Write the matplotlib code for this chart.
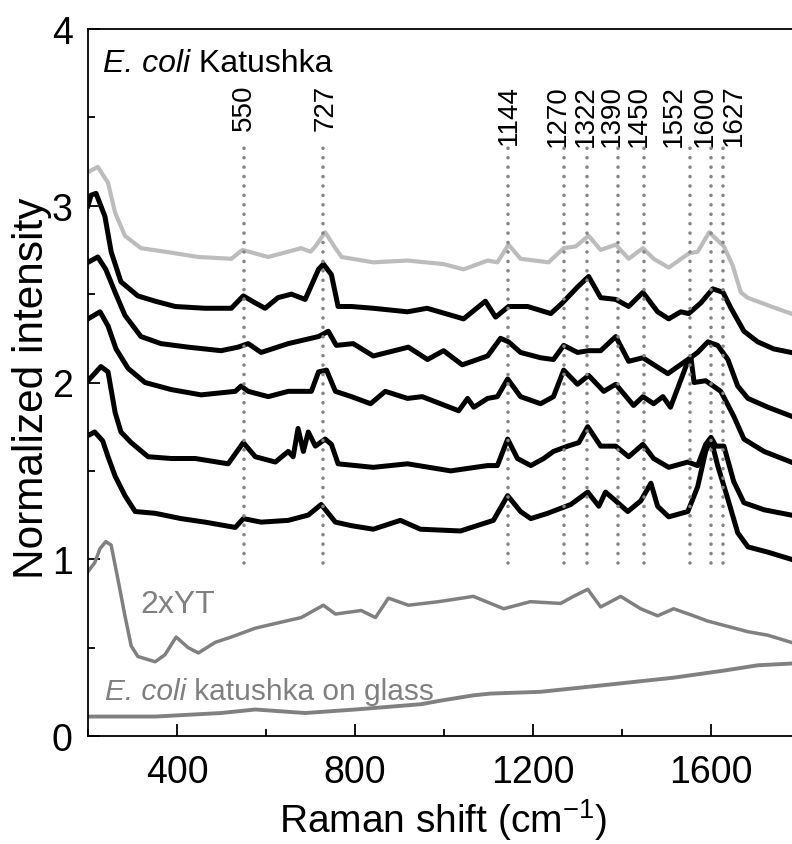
import numpy as np
import matplotlib
matplotlib.use("Agg")
import matplotlib.pyplot as plt
from matplotlib.ticker import MultipleLocator

plt.rcParams['font.family'] = ['Liberation Sans', 'DejaVu Sans']
plt.rcParams['mathtext.fontset'] = 'custom'
plt.rcParams['mathtext.rm'] = 'Liberation Sans'
plt.rcParams['mathtext.default'] = 'regular'

# --- spectra (Raman shift in cm-1, normalized intensity) ---
top_gray_x = [200, 222, 245, 261, 283, 319, 373, 448, 522, 547, 605, 679, 700, 711, 733, 756, 770,
              841, 918, 999, 1044, 1098, 1120, 1145, 1172, 1235, 1269, 1296, 1325, 1352, 1386,
              1415, 1447, 1471, 1505, 1550, 1570, 1596, 1629, 1649, 1667, 1682, 1735, 1780]
top_gray_y = [3.19, 3.22, 3.13, 2.96, 2.83, 2.76, 2.74, 2.71, 2.70, 2.75, 2.71, 2.76, 2.74, 2.77, 2.85, 2.76, 2.71,
              2.68, 2.69, 2.67, 2.64, 2.69, 2.68, 2.78, 2.70, 2.68, 2.76, 2.77, 2.83, 2.75, 2.78,
              2.70, 2.76, 2.70, 2.65, 2.73, 2.74, 2.85, 2.77, 2.66, 2.51, 2.48, 2.43, 2.39]

black1_x = [200, 207, 218, 238, 252, 274, 312, 351, 396, 463, 522, 549, 576, 598, 627, 657, 688, 718, 729,
            747, 762, 792, 841, 918, 962, 1044, 1093, 1116, 1145, 1188, 1240, 1266, 1300, 1325, 1352,
            1386, 1415, 1447, 1480, 1505, 1532, 1550, 1577, 1604, 1627, 1645, 1674, 1705, 1741, 1780]
black1_y = [3.00, 3.06, 3.07, 2.94, 2.74, 2.57, 2.49, 2.46, 2.43, 2.42, 2.42, 2.49, 2.45, 2.42, 2.48, 2.50, 2.47, 2.64, 2.67,
            2.61, 2.43, 2.43, 2.42, 2.40, 2.42, 2.36, 2.46, 2.37, 2.43, 2.43, 2.39, 2.45, 2.54, 2.60, 2.48,
            2.47, 2.43, 2.51, 2.40, 2.36, 2.40, 2.39, 2.45, 2.53, 2.51, 2.42, 2.29, 2.23, 2.19, 2.17]

black2_x = [200, 222, 240, 261, 283, 319, 364, 425, 499, 537, 560, 589, 650, 718, 740, 758, 796, 841, 920,
            963, 999, 1041, 1098, 1127, 1145, 1172, 1217, 1246, 1269, 1300, 1325, 1352, 1386, 1415, 1447,
            1503, 1548, 1570, 1593, 1615, 1638, 1660, 1683, 1728, 1780]
black2_y = [2.68, 2.71, 2.64, 2.51, 2.38, 2.26, 2.22, 2.20, 2.18, 2.20, 2.22, 2.17, 2.22, 2.26, 2.29, 2.21, 2.22, 2.15, 2.20,
            2.13, 2.18, 2.10, 2.15, 2.25, 2.23, 2.17, 2.14, 2.13, 2.21, 2.17, 2.18, 2.18, 2.26, 2.12, 2.14,
            2.05, 2.13, 2.17, 2.23, 2.21, 2.13, 1.98, 1.91, 1.86, 1.81]

black3_x = [200, 227, 245, 263, 290, 328, 387, 454, 531, 544, 560, 605, 650, 702, 718, 736, 756, 792, 835,
            868, 918, 951, 992, 1033, 1053, 1067, 1098, 1120, 1143, 1172, 1217, 1246, 1269, 1300, 1325,
            1359, 1386, 1426, 1447, 1471, 1492, 1509, 1548, 1555, 1562, 1588, 1622, 1651, 1674, 1719, 1780]
black3_y = [2.36, 2.40, 2.32, 2.19, 2.08, 2.00, 1.96, 1.93, 1.95, 1.98, 1.95, 1.92, 1.95, 1.95, 2.06, 2.07, 1.95, 1.92, 1.88,
            1.95, 1.91, 1.92, 1.88, 1.84, 1.91, 1.86, 1.91, 1.92, 2.02, 1.92, 1.88, 1.92, 2.07, 1.99, 2.04,
            1.95, 1.99, 1.87, 1.92, 1.88, 1.92, 1.86, 2.12, 2.14, 2.00, 2.01, 1.95, 1.81, 1.68, 1.61, 1.55]

black4_x = [200, 229, 245, 261, 274, 297, 335, 387, 441, 515, 549, 576, 621, 650, 661, 672, 684, 695, 711,
            733, 747, 762, 841, 918, 1015, 1098, 1120, 1143, 1165, 1195, 1224, 1246, 1278, 1303, 1323,
            1352, 1386, 1415, 1447, 1471, 1505, 1548, 1570, 1588, 1600, 1611, 1629, 1651, 1674, 1719, 1780]
black4_y = [2.01, 2.09, 2.06, 1.83, 1.72, 1.66, 1.58, 1.57, 1.57, 1.54, 1.66, 1.58, 1.55, 1.61, 1.58, 1.74, 1.61, 1.72, 1.64,
            1.68, 1.65, 1.54, 1.52, 1.54, 1.50, 1.53, 1.53, 1.68, 1.57, 1.53, 1.57, 1.61, 1.64, 1.66, 1.75,
            1.64, 1.64, 1.58, 1.65, 1.57, 1.52, 1.55, 1.53, 1.65, 1.69, 1.64, 1.64, 1.44, 1.32, 1.28, 1.25]

black5_x = [200, 215, 233, 245, 261, 283, 306, 351, 409, 463, 531, 549, 589, 650, 695, 724, 756, 792, 841,
            902, 947, 1037, 1111, 1143, 1172, 1195, 1233, 1285, 1323, 1348, 1363, 1386, 1413, 1442, 1465,
            1480, 1505, 1548, 1570, 1588, 1600, 1615, 1638, 1660, 1683, 1728, 1780]
black5_y = [1.70, 1.72, 1.67, 1.58, 1.47, 1.36, 1.27, 1.26, 1.23, 1.21, 1.18, 1.23, 1.21, 1.22, 1.25, 1.31, 1.21, 1.19, 1.17,
            1.22, 1.17, 1.16, 1.22, 1.36, 1.27, 1.23, 1.26, 1.31, 1.38, 1.30, 1.38, 1.33, 1.27, 1.33, 1.43,
            1.30, 1.24, 1.27, 1.41, 1.61, 1.68, 1.53, 1.34, 1.15, 1.07, 1.04, 1.00]

yt_x = [200, 215, 227, 240, 252, 267, 283, 297, 312, 351, 373, 398, 425, 448, 486, 522, 576, 627, 679,
        729, 756, 814, 846, 875, 920, 988, 1066, 1134, 1194, 1262, 1291, 1323, 1352, 1397, 1442, 1480,
        1516, 1561, 1593, 1638, 1683, 1728, 1780]
yt_y = [0.93, 0.98, 1.06, 1.10, 1.08, 0.89, 0.68, 0.51, 0.45, 0.42, 0.46, 0.56, 0.50, 0.47, 0.53, 0.56, 0.61, 0.64, 0.67,
        0.74, 0.69, 0.71, 0.67, 0.78, 0.74, 0.76, 0.79, 0.72, 0.76, 0.75, 0.79, 0.83, 0.73, 0.79, 0.72, 0.68,
        0.72, 0.68, 0.65, 0.62, 0.59, 0.57, 0.53]

glass_x = [200, 351, 499, 576, 688, 801, 949, 992, 1066, 1104, 1217, 1368, 1516, 1629, 1705, 1780]
glass_y = [0.11, 0.11, 0.13, 0.15, 0.13, 0.15, 0.18, 0.20, 0.23, 0.24, 0.25, 0.29, 0.33, 0.37, 0.40, 0.41]

peaks = [550, 727, 1144, 1270, 1322, 1390, 1450, 1552, 1600, 1627]
# where each rotated label sits (spread apart where peaks crowd together)
peak_label_x = [550, 733, 1145, 1256, 1319, 1378, 1438, 1516, 1586, 1652]

LIGHT = '#bcbcbc'
GRAY = '#808080'

fig = plt.figure(figsize=(7.92, 8.45), dpi=100)
ax = fig.add_axes([88 / 792, 108 / 845, 712 / 792, 707 / 845])

ax.plot(top_gray_x, top_gray_y, color=LIGHT, lw=3.0, solid_joinstyle='round')
for xs, ys in [(black1_x, black1_y), (black2_x, black2_y), (black3_x, black3_y),
               (black4_x, black4_y), (black5_x, black5_y)]:
    ax.plot(xs, ys, color='black', lw=3.6, solid_joinstyle='round')
ax.plot(yt_x, yt_y, color=GRAY, lw=2.5, solid_joinstyle='round')
ax.plot(glass_x, glass_y, color=GRAY, lw=2.8)

for p, lx in zip(peaks, peak_label_x):
    ax.plot([p, p], [0.98, 3.33], color='#858585', lw=2.6,
            linestyle=(0, (0.01, 2.6)), dash_capstyle='round', zorder=5)
    ax.text(lx, 3.69, str(p), rotation=90, ha='center', va='top', fontsize=20)


def italic_then_plain(x, y, ital, plain, size, color):
    t1 = ax.text(x, y, ital, fontsize=size, style='italic', color=color,
                 ha='left', va='baseline')
    ax.annotate(plain, xy=(1, 0), xycoords=t1, fontsize=size, color=color,
                ha='left', va='bottom')


italic_then_plain(234, 3.76, 'E. coli', ' Katushka', 23, 'black')
ax.text(317, 0.70, '2xYT', fontsize=23, color=GRAY, ha='left', va='baseline')
italic_then_plain(238, 0.21, 'E. coli', ' katushka on glass', 21.5, GRAY)

ax.set_xlim(200, 1800)
ax.set_ylim(0, 4)
ax.xaxis.set_major_locator(MultipleLocator(400))
ax.xaxis.set_minor_locator(MultipleLocator(200))
ax.yaxis.set_major_locator(MultipleLocator(1))
ax.yaxis.set_minor_locator(MultipleLocator(0.5))
ax.tick_params(which='both', direction='in', width=1.3, labelsize=27)
ax.tick_params(which='major', length=8.5)
ax.tick_params(which='minor', length=5)
ax.tick_params(axis='x', pad=13)
ax.tick_params(axis='y', pad=11)
for s in ax.spines.values():
    s.set_linewidth(1.3)

fig.text(443 / 792, (845 - 833) / 845, 'Raman shift (cm$^{-1}$)', fontsize=28,
         ha='center', va='baseline')
fig.text(12 / 792, (845 - 388) / 845, 'Normalized intensity', fontsize=30.5,
         rotation=90, ha='left', va='center')

fig.savefig('out.png', dpi=100)
